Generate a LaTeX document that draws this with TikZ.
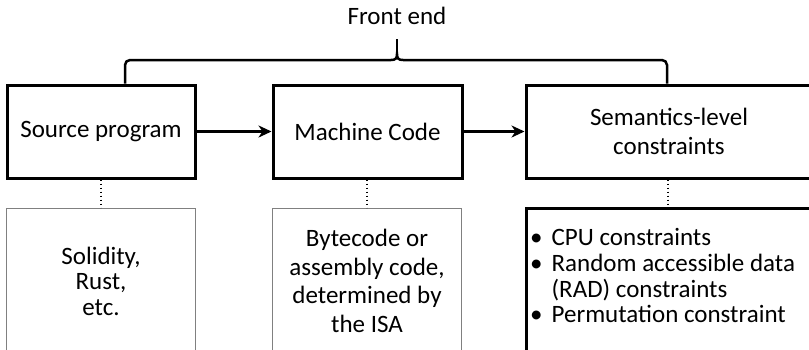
\documentclass[tikz,border=0pt]{standalone}
\usepackage{fontspec}
\setmainfont{Carlito}
\usetikzlibrary{arrows.meta,calc}
\begin{document}
\begin{tikzpicture}[x=1pt,y=-1pt,
  every node/.style={font=\fontsize{25}{25.5}\selectfont, inner sep=0pt},
  topbox/.style={draw=black, line width=3pt, minimum width=188pt, minimum height=93pt, align=center},
  graybox/.style={draw=black!50, line width=1pt, minimum width=189pt, minimum height=146pt, align=center},
  blackbox/.style={draw=black, line width=3pt, minimum width=290pt, minimum height=146pt},
  flow/.style={line width=3pt, -{Stealth[length=13pt,width=12pt,inset=4pt]}},
  dots/.style={line width=1.4pt, dash pattern=on 1.4pt off 2.6pt},
  brace/.style={line width=2.5pt, rounded corners=5pt}
]
\useasboundingbox (0,0) rectangle (809,349);
\clip (0,0) rectangle (809,349);

\node (fe) at (397,16) {Front end};

\node[topbox] (src) at (101,131.5) {Source program};
\node[topbox, minimum width=189pt] (mc) at (367.5,131.5) {Machine Code};
\node[topbox, minimum width=286pt, font=\fontsize{25}{29}\selectfont] (sem) at (669,131.5) {Semantics-level\\constraints};

\coordinate (bl) at (125,60);
\coordinate (br) at (667,60);
\coordinate (bt) at (397,39);
\coordinate (cusp) at (397,54);

\draw[brace] (src.north -| bl) -- (bl) -- (391,60);
\draw[brace] (sem.north -| br) -- (br) -- (403,60);
\draw[line width=2.5pt] (391,60) .. controls (395.5,60) and (397,58.5) .. (cusp)
  .. controls (397,58.5) and (398.5,60) .. (403,60);
\draw[line width=2.5pt] (cusp) -- (bt);

\draw[flow] (src) -- (mc);
\draw[flow] (mc) -- (sem);

\node[graybox] (l1) at (101,281) {Solidity,\\Rust,\\etc.};
\node[graybox, font=\fontsize{25}{28.5}\selectfont] (l2) at (367,281) {Bytecode or\\assembly code,\\determined by\\the ISA};
\node[blackbox] (l3) at (671,281) {};
\node[anchor=west] (l3t) at (530,279) {%
  \begin{tabular}{@{}l@{\hspace{9pt}}l@{}}
  • & CPU constraints\\
  • & Random accessible data\\
    & (RAD) constraints\\
  • & Permutation constraint
  \end{tabular}};

\draw[dots] (src.south -| l1.north) -- (l1.north);
\draw[dots] (mc.south -| l2.north) -- (l2.north);
\draw[dots] (sem.south -| 668,0) -- (l3.north -| 668,0);
\end{tikzpicture}
\end{document}
